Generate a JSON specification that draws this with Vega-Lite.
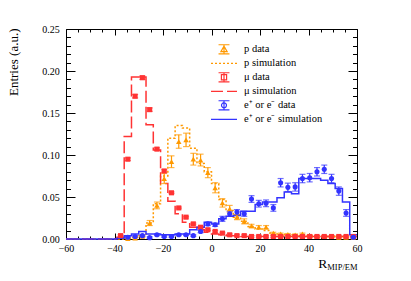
{
  "$schema": "https://vega.github.io/schema/vega-lite/v6.json",
  "width": 291,
  "height": 210,
  "autosize": "none",
  "padding": {"left": 66, "top": 29, "right": 54, "bottom": 42},
  "config": {
    "view": {"stroke": null},
    "font": "Liberation Serif",
    "axis": {
      "domainColor": "black", "tickColor": "black", "domainWidth": 1, "tickWidth": 1,
      "labelFont": "Liberation Serif", "labelFontSize": 10, "labelColor": "black", "labelFlush": false,
      "titleFont": "Liberation Serif", "titleFontWeight": "normal", "titleColor": "black",
      "grid": false
    }
  },
  "datasets": {
    "sim": [
      {"s": "p simulation", "x": -60, "y": 0}, {"s": "p simulation", "x": -36, "y": 0.001}, {"s": "p simulation", "x": -33, "y": 0.002},
      {"s": "p simulation", "x": -30, "y": 0.004}, {"s": "p simulation", "x": -27, "y": 0.019}, {"s": "p simulation", "x": -24, "y": 0.042},
      {"s": "p simulation", "x": -21, "y": 0.075}, {"s": "p simulation", "x": -18, "y": 0.120}, {"s": "p simulation", "x": -15, "y": 0.135},
      {"s": "p simulation", "x": -12, "y": 0.132}, {"s": "p simulation", "x": -9, "y": 0.108}, {"s": "p simulation", "x": -6, "y": 0.090},
      {"s": "p simulation", "x": -3, "y": 0.080}, {"s": "p simulation", "x": 0, "y": 0.066}, {"s": "p simulation", "x": 3, "y": 0.047},
      {"s": "p simulation", "x": 6, "y": 0.034}, {"s": "p simulation", "x": 9, "y": 0.026}, {"s": "p simulation", "x": 12, "y": 0.021},
      {"s": "p simulation", "x": 15, "y": 0.015}, {"s": "p simulation", "x": 18, "y": 0.012}, {"s": "p simulation", "x": 21, "y": 0.010},
      {"s": "p simulation", "x": 24, "y": 0.007}, {"s": "p simulation", "x": 27, "y": 0.006}, {"s": "p simulation", "x": 30, "y": 0.005},
      {"s": "p simulation", "x": 36, "y": 0.004}, {"s": "p simulation", "x": 42, "y": 0.003}, {"s": "p simulation", "x": 60, "y": 0.003},

      {"s": "μ simulation", "x": -60, "y": 0}, {"s": "μ simulation", "x": -39, "y": 0.002}, {"s": "μ simulation", "x": -36, "y": 0.122},
      {"s": "μ simulation", "x": -33, "y": 0.193}, {"s": "μ simulation", "x": -30, "y": 0.193}, {"s": "μ simulation", "x": -27, "y": 0.136},
      {"s": "μ simulation", "x": -24, "y": 0.106}, {"s": "μ simulation", "x": -21, "y": 0.066}, {"s": "μ simulation", "x": -18, "y": 0.045},
      {"s": "μ simulation", "x": -15, "y": 0.030}, {"s": "μ simulation", "x": -12, "y": 0.020}, {"s": "μ simulation", "x": -9, "y": 0.014},
      {"s": "μ simulation", "x": -6, "y": 0.011}, {"s": "μ simulation", "x": -3, "y": 0.008}, {"s": "μ simulation", "x": 0, "y": 0.006},
      {"s": "μ simulation", "x": 3, "y": 0.005}, {"s": "μ simulation", "x": 6, "y": 0.004}, {"s": "μ simulation", "x": 12, "y": 0.003},
      {"s": "μ simulation", "x": 60, "y": 0.003},

      {"s": "e⁺ or e⁻ simulation", "x": -60, "y": 0}, {"s": "e⁺ or e⁻ simulation", "x": -39, "y": 0.001}, {"s": "e⁺ or e⁻ simulation", "x": -36, "y": 0.004},
      {"s": "e⁺ or e⁻ simulation", "x": -33, "y": 0.006}, {"s": "e⁺ or e⁻ simulation", "x": -30, "y": 0.009}, {"s": "e⁺ or e⁻ simulation", "x": -27, "y": 0.006},
      {"s": "e⁺ or e⁻ simulation", "x": -21, "y": 0.005}, {"s": "e⁺ or e⁻ simulation", "x": -15, "y": 0.006}, {"s": "e⁺ or e⁻ simulation", "x": -9, "y": 0.011},
      {"s": "e⁺ or e⁻ simulation", "x": -6, "y": 0.014}, {"s": "e⁺ or e⁻ simulation", "x": -3, "y": 0.020}, {"s": "e⁺ or e⁻ simulation", "x": 0, "y": 0.018},
      {"s": "e⁺ or e⁻ simulation", "x": 3, "y": 0.024}, {"s": "e⁺ or e⁻ simulation", "x": 6, "y": 0.027}, {"s": "e⁺ or e⁻ simulation", "x": 9, "y": 0.028},
      {"s": "e⁺ or e⁻ simulation", "x": 12, "y": 0.033}, {"s": "e⁺ or e⁻ simulation", "x": 18, "y": 0.041}, {"s": "e⁺ or e⁻ simulation", "x": 21, "y": 0.044},
      {"s": "e⁺ or e⁻ simulation", "x": 27, "y": 0.049}, {"s": "e⁺ or e⁻ simulation", "x": 30, "y": 0.056}, {"s": "e⁺ or e⁻ simulation", "x": 33, "y": 0.054},
      {"s": "e⁺ or e⁻ simulation", "x": 36, "y": 0.072}, {"s": "e⁺ or e⁻ simulation", "x": 45, "y": 0.070}, {"s": "e⁺ or e⁻ simulation", "x": 48, "y": 0.066},
      {"s": "e⁺ or e⁻ simulation", "x": 51, "y": 0.060}, {"s": "e⁺ or e⁻ simulation", "x": 54, "y": 0.044}, {"s": "e⁺ or e⁻ simulation", "x": 57, "y": 0.005},
      {"s": "e⁺ or e⁻ simulation", "x": 60, "y": 0.005}
    ],
    "pts": [
      {"s": "p data", "x": -34.5, "y": 0.0005, "e": 0.0005}, {"s": "p data", "x": -31.5, "y": 0.001, "e": 0.001}, {"s": "p data", "x": -28.5, "y": 0.003, "e": 0.001},
      {"s": "p data", "x": -25.5, "y": 0.019, "e": 0.003}, {"s": "p data", "x": -22.5, "y": 0.040, "e": 0.004}, {"s": "p data", "x": -19.5, "y": 0.072, "e": 0.006},
      {"s": "p data", "x": -16.5, "y": 0.092, "e": 0.007}, {"s": "p data", "x": -13.5, "y": 0.116, "e": 0.008}, {"s": "p data", "x": -10.5, "y": 0.118, "e": 0.008},
      {"s": "p data", "x": -7.5, "y": 0.095, "e": 0.007}, {"s": "p data", "x": -4.5, "y": 0.094, "e": 0.007}, {"s": "p data", "x": -1.5, "y": 0.079, "e": 0.006},
      {"s": "p data", "x": 1.5, "y": 0.061, "e": 0.006}, {"s": "p data", "x": 4.5, "y": 0.043, "e": 0.005}, {"s": "p data", "x": 7.5, "y": 0.036, "e": 0.004},
      {"s": "p data", "x": 10.5, "y": 0.026, "e": 0.003}, {"s": "p data", "x": 13.5, "y": 0.021, "e": 0.003}, {"s": "p data", "x": 16.5, "y": 0.0155, "e": 0.002},
      {"s": "p data", "x": 19.5, "y": 0.014, "e": 0.002}, {"s": "p data", "x": 22.5, "y": 0.014, "e": 0.002}, {"s": "p data", "x": 25.5, "y": 0.007, "e": 0.001},
      {"s": "p data", "x": 28.5, "y": 0.006, "e": 0.001}, {"s": "p data", "x": 31.5, "y": 0.0055, "e": 0.001}, {"s": "p data", "x": 34.5, "y": 0.005, "e": 0.001},
      {"s": "p data", "x": 37.5, "y": 0.006, "e": 0.001}, {"s": "p data", "x": 40.5, "y": 0.004, "e": 0.001}, {"s": "p data", "x": 43.5, "y": 0.003, "e": 0.001},
      {"s": "p data", "x": 46.5, "y": 0.003, "e": 0.001}, {"s": "p data", "x": 49.5, "y": 0.003, "e": 0.001}, {"s": "p data", "x": 52.5, "y": 0.002, "e": 0.001},
      {"s": "p data", "x": 55.5, "y": 0.002, "e": 0.001}, {"s": "p data", "x": 58.5, "y": 0.002, "e": 0.001},

      {"s": "μ data", "x": -37.5, "y": 0.004, "e": 0.001}, {"s": "μ data", "x": -34.5, "y": 0.095, "e": 0.0015}, {"s": "μ data", "x": -31.5, "y": 0.170, "e": 0.002},
      {"s": "μ data", "x": -28.5, "y": 0.192, "e": 0.002}, {"s": "μ data", "x": -25.5, "y": 0.154, "e": 0.002}, {"s": "μ data", "x": -22.5, "y": 0.107, "e": 0.0015},
      {"s": "μ data", "x": -19.5, "y": 0.081, "e": 0.0015}, {"s": "μ data", "x": -16.5, "y": 0.055, "e": 0.001}, {"s": "μ data", "x": -13.5, "y": 0.037, "e": 0.001},
      {"s": "μ data", "x": -10.5, "y": 0.026, "e": 0.001}, {"s": "μ data", "x": -7.5, "y": 0.018, "e": 0.001}, {"s": "μ data", "x": -4.5, "y": 0.014, "e": 0.001},
      {"s": "μ data", "x": -1.5, "y": 0.011, "e": 0.001}, {"s": "μ data", "x": 1.5, "y": 0.009, "e": 0.001}, {"s": "μ data", "x": 4.5, "y": 0.007, "e": 0.001},
      {"s": "μ data", "x": 7.5, "y": 0.005, "e": 0.001}, {"s": "μ data", "x": 10.5, "y": 0.004, "e": 0.001}, {"s": "μ data", "x": 13.5, "y": 0.004, "e": 0.001},
      {"s": "μ data", "x": 16.5, "y": 0.003, "e": 0.001}, {"s": "μ data", "x": 19.5, "y": 0.003, "e": 0.001}, {"s": "μ data", "x": 22.5, "y": 0.003, "e": 0.001},
      {"s": "μ data", "x": 25.5, "y": 0.003, "e": 0.001}, {"s": "μ data", "x": 28.5, "y": 0.003, "e": 0.001}, {"s": "μ data", "x": 31.5, "y": 0.003, "e": 0.001},
      {"s": "μ data", "x": 34.5, "y": 0.003, "e": 0.001}, {"s": "μ data", "x": 37.5, "y": 0.003, "e": 0.001}, {"s": "μ data", "x": 40.5, "y": 0.003, "e": 0.001},
      {"s": "μ data", "x": 43.5, "y": 0.003, "e": 0.001}, {"s": "μ data", "x": 46.5, "y": 0.003, "e": 0.001}, {"s": "μ data", "x": 49.5, "y": 0.003, "e": 0.001},
      {"s": "μ data", "x": 52.5, "y": 0.003, "e": 0.001}, {"s": "μ data", "x": 55.5, "y": 0.003, "e": 0.001}, {"s": "μ data", "x": 58.5, "y": 0.003, "e": 0.001},

      {"s": "e⁺ or e⁻ data", "x": -34.5, "y": 0.002, "e": 0.001}, {"s": "e⁺ or e⁻ data", "x": -31.5, "y": 0.003, "e": 0.001}, {"s": "e⁺ or e⁻ data", "x": -28.5, "y": 0.004, "e": 0.001},
      {"s": "e⁺ or e⁻ data", "x": -25.5, "y": 0.0016, "e": 0.001}, {"s": "e⁺ or e⁻ data", "x": -22.5, "y": 0.005, "e": 0.001}, {"s": "e⁺ or e⁻ data", "x": -19.5, "y": 0.003, "e": 0.001},
      {"s": "e⁺ or e⁻ data", "x": -16.5, "y": 0.003, "e": 0.001}, {"s": "e⁺ or e⁻ data", "x": -13.5, "y": 0.005, "e": 0.001}, {"s": "e⁺ or e⁻ data", "x": -10.5, "y": 0.005, "e": 0.001},
      {"s": "e⁺ or e⁻ data", "x": -7.5, "y": 0.004, "e": 0.001}, {"s": "e⁺ or e⁻ data", "x": -4.5, "y": 0.009, "e": 0.0015}, {"s": "e⁺ or e⁻ data", "x": -1.5, "y": 0.018, "e": 0.002},
      {"s": "e⁺ or e⁻ data", "x": 1.5, "y": 0.017, "e": 0.002}, {"s": "e⁺ or e⁻ data", "x": 4.5, "y": 0.024, "e": 0.003}, {"s": "e⁺ or e⁻ data", "x": 7.5, "y": 0.030, "e": 0.003},
      {"s": "e⁺ or e⁻ data", "x": 10.5, "y": 0.032, "e": 0.003}, {"s": "e⁺ or e⁻ data", "x": 13.5, "y": 0.030, "e": 0.003}, {"s": "e⁺ or e⁻ data", "x": 16.5, "y": 0.0476, "e": 0.004},
      {"s": "e⁺ or e⁻ data", "x": 19.5, "y": 0.042, "e": 0.004}, {"s": "e⁺ or e⁻ data", "x": 22.5, "y": 0.0425, "e": 0.004}, {"s": "e⁺ or e⁻ data", "x": 25.5, "y": 0.037, "e": 0.004},
      {"s": "e⁺ or e⁻ data", "x": 28.5, "y": 0.067, "e": 0.005}, {"s": "e⁺ or e⁻ data", "x": 31.5, "y": 0.0615, "e": 0.005}, {"s": "e⁺ or e⁻ data", "x": 34.5, "y": 0.062, "e": 0.005},
      {"s": "e⁺ or e⁻ data", "x": 37.5, "y": 0.072, "e": 0.005}, {"s": "e⁺ or e⁻ data", "x": 40.5, "y": 0.073, "e": 0.005}, {"s": "e⁺ or e⁻ data", "x": 43.5, "y": 0.080, "e": 0.005},
      {"s": "e⁺ or e⁻ data", "x": 46.5, "y": 0.083, "e": 0.005}, {"s": "e⁺ or e⁻ data", "x": 49.5, "y": 0.072, "e": 0.005}, {"s": "e⁺ or e⁻ data", "x": 52.5, "y": 0.057, "e": 0.005},
      {"s": "e⁺ or e⁻ data", "x": 55.5, "y": 0.031, "e": 0.004}, {"s": "e⁺ or e⁻ data", "x": 58.5, "y": 0.002, "e": 0.001}
    ],
    "legend": [
      {"s": "p data"}, {"s": "p simulation"}, {"s": "μ data"}, {"s": "μ simulation"}, {"s": "e⁺ or e⁻ data"}, {"s": "e⁺ or e⁻ simulation"}
    ]
  },
  "layer": [
    {
      "data": {"name": "sim"},
      "transform": [{"filter": "datum.s === 'p simulation'"}],
      "mark": {"type": "line", "interpolate": "step-after", "strokeWidth": 1.5, "color": "#ff9900", "strokeDash": [2, 2]},
      "encoding": {
        "x": {"field": "x", "type": "quantitative", "scale": {"domain": [-60, 60], "nice": false, "zero": false},
          "axis": {"orient": "bottom", "values": [-60, -40, -20, 0, 20, 40, 60], "tickSize": -6, "labelPadding": 10.5, "labelFontSize": 10,
            "title": "R", "titleFontSize": 13.5, "titleX": 260.7, "titleY": 28.7, "titleAlign": "right", "titleBaseline": "alphabetic"}},
        "y": {"field": "y", "type": "quantitative", "scale": {"domain": [0, 0.25], "nice": false, "zero": false},
          "axis": {"orient": "left", "values": [0, 0.05, 0.1, 0.15, 0.2, 0.25], "format": ".2f", "tickSize": -9, "labelPadding": 15.7, "labelFontSize": 10,
            "title": "Entries (a.u.)", "titleFontSize": 13, "titleX": -48.4, "titleY": -1, "titleAngle": -90, "titleAlign": "right", "titleBaseline": "alphabetic"}}
      }
    },
    {
      "data": {"name": "sim"},
      "transform": [{"filter": "datum.s === 'μ simulation'"}],
      "mark": {"type": "line", "interpolate": "step-after", "strokeWidth": 1.5, "color": "#ff3333", "strokeDash": [12, 4]},
      "encoding": {
        "x": {"field": "x", "type": "quantitative", "axis": null},
        "y": {"field": "y", "type": "quantitative", "axis": null}
      }
    },
    {
      "data": {"name": "sim"},
      "transform": [{"filter": "datum.s === 'e⁺ or e⁻ simulation'"}],
      "mark": {"type": "line", "interpolate": "step-after", "strokeWidth": 1.5, "color": "#3333ff"},
      "encoding": {
        "x": {"field": "x", "type": "quantitative", "axis": null},
        "y": {"field": "y", "type": "quantitative", "axis": null}
      }
    },
    {
      "data": {"name": "pts"},
      "mark": {"type": "errorbar", "ticks": {"size": 6}, "thickness": 1.2},
      "encoding": {
        "x": {"field": "x", "type": "quantitative", "axis": null},
        "y": {"field": "y", "type": "quantitative", "axis": null},
        "yError": {"field": "e"},
        "color": {"field": "s", "type": "nominal", "legend": null,
          "scale": {"domain": ["p data", "μ data", "e⁺ or e⁻ data"], "range": ["#ff9900", "#ff3333", "#3333ff"]}}
      }
    },
    {
      "data": {"name": "pts"},
      "transform": [{"filter": "datum.s === 'p data'"}],
      "mark": {"type": "point", "shape": "triangle-up", "filled": true, "size": 30, "opacity": 1, "color": "#ff9900"},
      "encoding": {
        "x": {"field": "x", "type": "quantitative",
          "axis": {"orient": "bottom", "values": [-55, -50, -45, -35, -30, -25, -15, -10, -5, 5, 10, 15, 25, 30, 35, 45, 50, 55], "tickSize": -3, "labels": false, "domain": false, "title": null}},
        "y": {"field": "y", "type": "quantitative",
          "axis": {"orient": "left", "values": [0.01, 0.02, 0.03, 0.04, 0.06, 0.07, 0.08, 0.09, 0.11, 0.12, 0.13, 0.14, 0.16, 0.17, 0.18, 0.19, 0.21, 0.22, 0.23, 0.24], "tickSize": -4.5, "labels": false, "domain": false, "title": null}}
      }
    },
    {
      "data": {"name": "pts"},
      "transform": [{"filter": "datum.s === 'μ data'"}],
      "mark": {"type": "point", "shape": "square", "filled": true, "size": 26, "opacity": 1, "color": "#ff3333"},
      "encoding": {
        "x": {"field": "x", "type": "quantitative",
          "axis": {"orient": "top", "values": [-60, -40, -20, 0, 20, 40, 60], "tickSize": -6, "labels": false, "domain": true, "title": null}},
        "y": {"field": "y", "type": "quantitative",
          "axis": {"orient": "right", "values": [0, 0.05, 0.1, 0.15, 0.2, 0.25], "tickSize": -9, "labels": false, "domain": true, "title": null}}
      }
    },
    {
      "data": {"name": "pts"},
      "transform": [{"filter": "datum.s === 'e⁺ or e⁻ data'"}],
      "mark": {"type": "point", "shape": "circle", "filled": true, "size": 26, "opacity": 1, "color": "#3333ff"},
      "encoding": {
        "x": {"field": "x", "type": "quantitative",
          "axis": {"orient": "top", "values": [-55, -50, -45, -35, -30, -25, -15, -10, -5, 5, 10, 15, 25, 30, 35, 45, 50, 55], "tickSize": -3, "labels": false, "domain": false, "title": null}},
        "y": {"field": "y", "type": "quantitative",
          "axis": {"orient": "right", "values": [0.01, 0.02, 0.03, 0.04, 0.06, 0.07, 0.08, 0.09, 0.11, 0.12, 0.13, 0.14, 0.16, 0.17, 0.18, 0.19, 0.21, 0.22, 0.23, 0.24], "tickSize": -4.5, "labels": false, "domain": false, "title": null}}
      }
    },
    {
      "data": {"name": "legend"},
      "mark": {"type": "point", "filled": true, "opacity": 0},
      "encoding": {
        "x": {"datum": 0, "type": "quantitative",
          "axis": {"orient": "bottom", "ticks": false, "labels": false, "domain": false,
            "title": "MIP/EM", "titleFontSize": 8.5, "titleX": 291, "titleY": 30.5, "titleAlign": "right", "titleBaseline": "alphabetic"}},
        "y": {"datum": 0, "type": "quantitative", "axis": null},
        "fill": {"field": "s", "type": "nominal",
          "scale": {"domain": ["p data", "p simulation", "μ data", "μ simulation", "e⁺ or e⁻ data", "e⁺ or e⁻ simulation"],
            "range": ["#ff9900", "#ff9900", "#ff3333", "#ff3333", "#3333ff", "#3333ff"]},
          "legend": {"orient": "none", "legendX": 144, "legendY": 13.3, "title": null, "padding": 0, "rowPadding": 0, "clipHeight": 14,
            "labelFont": "Liberation Serif", "labelFontSize": 10.5, "labelColor": "black", "labelOffset": 6,
            "symbolSize": 676, "symbolStrokeWidth": 1.2, "symbolOpacity": 1}},
        "stroke": {"field": "s", "type": "nominal",
          "scale": {"domain": ["p data", "p simulation", "μ data", "μ simulation", "e⁺ or e⁻ data", "e⁺ or e⁻ simulation"],
            "range": ["#ff9900", "#ff9900", "#ff3333", "#ff3333", "#3333ff", "#3333ff"]}},
        "shape": {"field": "s", "type": "nominal",
          "scale": {"domain": ["p data", "p simulation", "μ data", "μ simulation", "e⁺ or e⁻ data", "e⁺ or e⁻ simulation"],
            "range": [
              "M-0.42,-0.35H0.42M0,-0.35V0.35M-0.42,0.35H0.42M0,-0.24L0.24,0.18L-0.24,0.18Z",
              "M-1,0H1",
              "M-0.42,-0.35H0.42M0,-0.35V0.35M-0.42,0.35H0.42M-0.2,-0.2H0.2V0.2H-0.2Z",
              "M-1,0H1",
              "M-0.42,-0.35H0.42M0,-0.35V0.35M-0.42,0.35H0.42M-0.19,0A0.19,0.19 0 1,0 0.19,0A0.19,0.19 0 1,0 -0.19,0Z",
              "M-1,0H1"]}},
        "strokeDash": {"field": "s", "type": "nominal",
          "scale": {"domain": ["p data", "p simulation", "μ data", "μ simulation", "e⁺ or e⁻ data", "e⁺ or e⁻ simulation"],
            "range": [[1, 0], [2, 2], [1, 0], [12, 4], [1, 0], [1, 0]]}}
      }
    }
  ],
  "resolve": {"axis": {"x": "independent", "y": "independent"}}
}
